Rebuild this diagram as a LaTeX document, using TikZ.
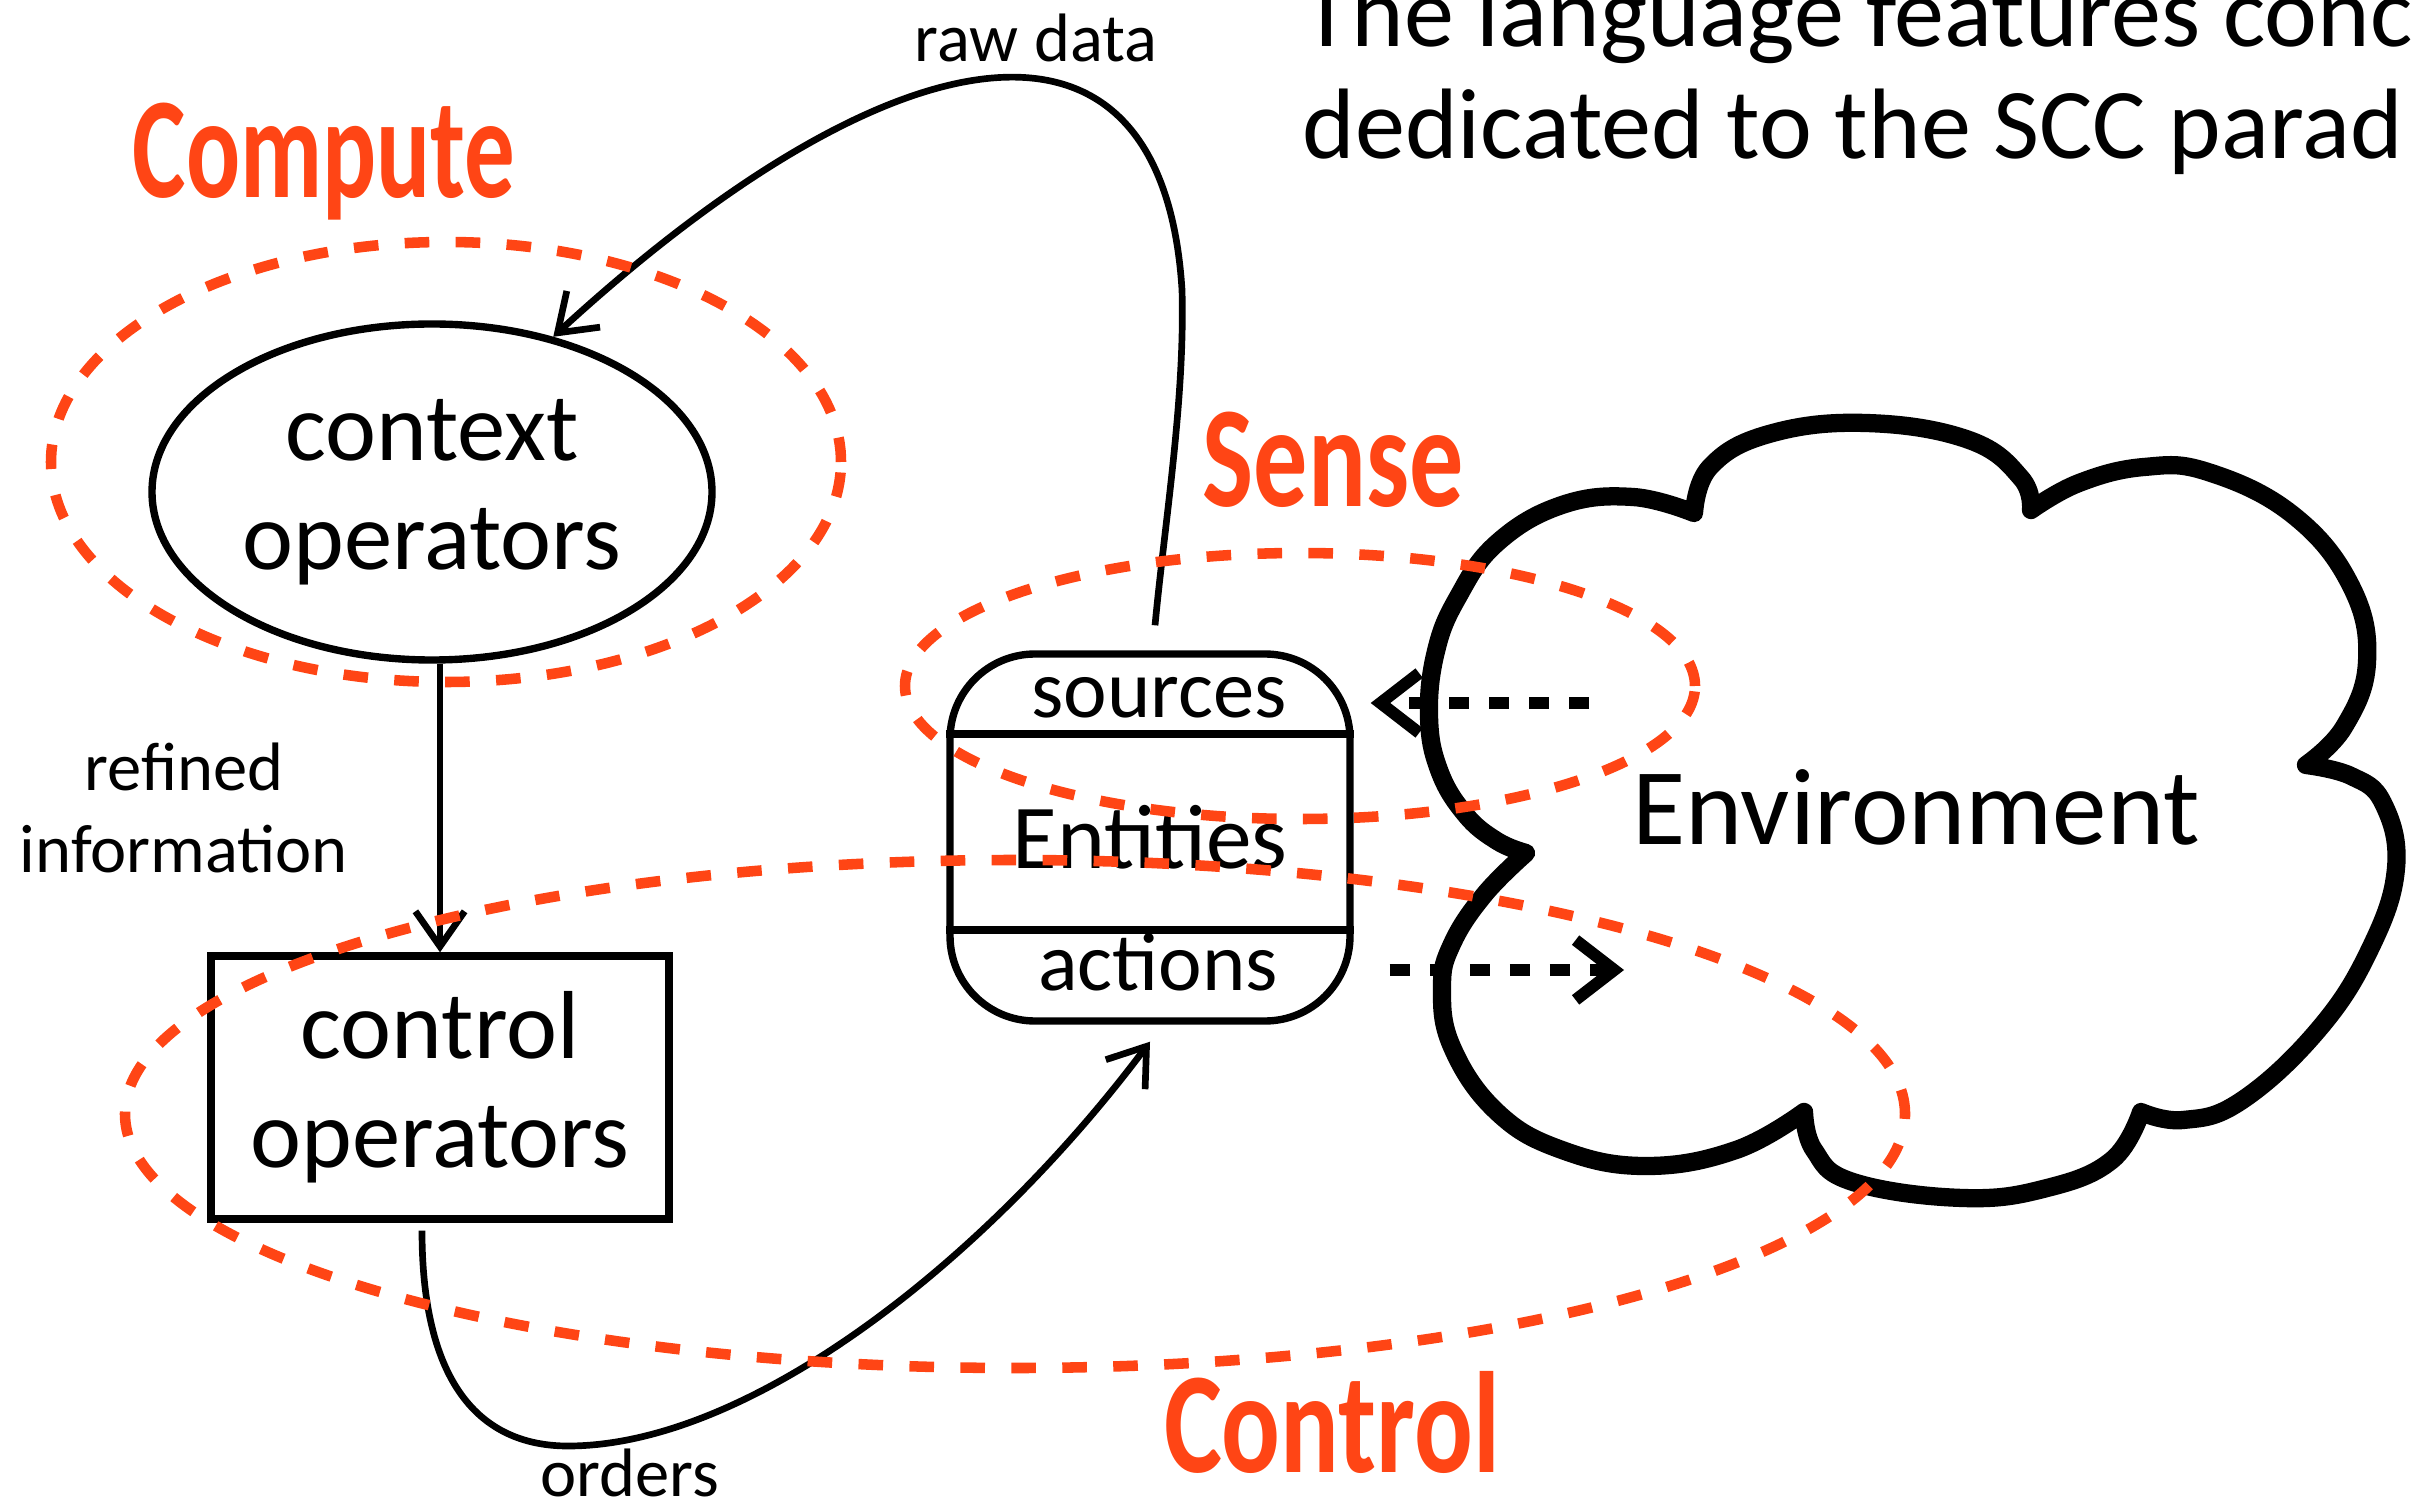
\documentclass[tikz,border=0pt]{standalone}
\usepackage{fontspec,graphicx}
\setmainfont{Carlito}
\usetikzlibrary{shapes.geometric,arrows.meta}
\definecolor{scc}{RGB}{255,69,21}

\begin{document}
\begin{tikzpicture}[
  every node/.style={inner sep=0pt},
  op/.style={draw, line width=2.1pt, align=center, font=\fontsize{27.5pt}{31pt}\selectfont},
  lbl/.style={align=center, font=\fontsize{19.5pt}{23.3pt}\selectfont},
  zonelbl/.style={anchor=base, text=scc, font=\fontsize{41pt}{41pt}\selectfont\bfseries},
  flow/.style={line width=1.9pt, -{Straight Barb[length=10pt,width=14pt]}},
  io/.style={line width=3.4pt, dash pattern=on 5.7pt off 5.7pt, -{Straight Barb[length=11pt,width=17pt]}},
  zone/.style={draw=scc, line width=3pt, dash pattern=on 7pt off 7.5pt},
]

\useasboundingbox (0,0) rectangle (24.14,-15.02);

% Title (cut off at the right edge)
\node[anchor=base west, align=left, font=\fontsize{28.5pt}{32pt}\selectfont] (title) at (13.02,-1.59)
  {The language features conce\\dedicated to the SCC parad};

% ── ENVIRONMENT CLOUD ───────────────────────────────────────────────
\draw[line width=5.2pt, line join=round]
  plot[smooth, tension=0.7] coordinates {(16.94,-5.13) (17.10,-4.67) (17.69,-4.34) (18.66,-4.23) (19.69,-4.40) (20.21,-4.78) (20.31,-5.10)}
  -- plot[smooth, tension=0.7] coordinates {(20.31,-5.10) (20.79,-4.83) (21.44,-4.67) (22.08,-4.72) (22.93,-5.15) (23.51,-5.86) (23.67,-6.62) (23.44,-7.27) (23.06,-7.65)}
  -- plot[smooth, tension=0.7] coordinates {(23.06,-7.65) (23.51,-7.76) (23.83,-8.03) (23.96,-8.68) (23.70,-9.49) (23.18,-10.30) (22.41,-11.01) (21.83,-11.20) (21.41,-11.12)}
  -- plot[smooth, tension=0.7] coordinates {(21.41,-11.12) (21.12,-11.60) (20.47,-11.88) (19.63,-11.98) (18.53,-11.82) (18.14,-11.50) (18.04,-11.12)}
  -- plot[smooth, tension=0.7] coordinates {(18.04,-11.12) (17.36,-11.50) (16.46,-11.66) (15.62,-11.50) (14.97,-11.12) (14.52,-10.47) (14.42,-9.87) (14.52,-9.44) (14.84,-8.95) (15.26,-8.53)}
  -- plot[smooth, tension=0.7] coordinates {(15.26,-8.53) (14.97,-8.41) (14.65,-8.14) (14.39,-7.70) (14.29,-7.16) (14.36,-6.51) (14.58,-5.97) (14.97,-5.43) (15.62,-5.05) (16.33,-4.97) (16.94,-5.13)}
  -- cycle;
\node[anchor=base, font=\fontsize{31pt}{31pt}\selectfont] (env) at (19.16,-8.45) {Environment};

% ── OPERATORS ───────────────────────────────────────────────────────
\node[op, ellipse, minimum width=5.6cm, minimum height=3.36cm] (ctx) at (4.32,-4.92) {context\\operators};
\node[op, rectangle, minimum width=4.58cm, minimum height=2.63cm] (ctl) at (4.40,-10.875) {control\\operators};

% Entities with sources / actions
\node[draw, line width=2.1pt, rounded corners=0.85cm, minimum width=4cm, minimum height=3.67cm,
  font=\fontsize{26pt}{26pt}\selectfont] (ent) at (11.50,-8.375) {Entities};
\draw[line width=2.1pt] (ent.west |- 0,-7.34) -- (ent.east |- 0,-7.34);
\draw[line width=2.1pt] (ent.west |- 0,-9.30) -- (ent.east |- 0,-9.30);
\node[anchor=base, font=\fontsize{23.5pt}{23.5pt}\selectfont] (src) at (11.59,-7.18) {sources};
\node[anchor=base, font=\fontsize{23.5pt}{23.5pt}\selectfont] (act) at (11.58,-9.90) {actions};

% ── FLOWS ───────────────────────────────────────────────────────────
\draw[flow] ([xshift=0.5mm,yshift=2.5mm]ent.north) .. controls (11.65,-5.2) and (11.85,-4.0) .. (11.82,-2.9)
  .. controls (11.62,0.29) and (8.85,-0.32) .. (ctx.52);
\node[lbl, anchor=base] (raw) at (10.36,-0.62) {raw data};

\draw[flow] (ctl.north |- ctx.south) -- (ctl.north);
\node[lbl, anchor=base] (refined) at (1.84,-8.72) {refined\\information};

\draw[flow] ([xshift=-1.8mm,yshift=-0.8mm]ctl.south) .. controls (4.22,-13.9) and (4.85,-14.46) .. (5.68,-14.46)
  .. controls (7.48,-14.46) and (9.84,-12.63) .. ([yshift=-1.7mm]ent.south);
\node[lbl, anchor=base] (ord) at (6.30,-14.96) {orders};

% Environment <-> Entities
\coordinate (envin) at (15.89,-7.03);
\coordinate (envout) at (16.24,-9.70);
\draw[io, shorten >=1.7mm] (envin) -- (ent.east |- envin);
\draw[io, shorten <=3.6mm] (ent.east |- envout) -- (envout);

% ── SCC ZONES ───────────────────────────────────────────────────────
\draw[zone] (4.46,-4.62) ellipse [x radius=3.95, y radius=2.20];
\draw[zone] (13.00,-6.86) ellipse [x radius=3.95, y radius=1.33];
\draw[zone] (10.15,-11.14) ellipse [x radius=8.90, y radius=2.54];

\node[zonelbl] (compute) at (3.24,-1.98) {\scalebox{0.7}[1]{Compute}};
\node[zonelbl] (sense) at (13.33,-5.07) {\scalebox{0.75}[1]{Sense}};
\node[zonelbl] (control) at (13.32,-14.72) {\scalebox{0.76}[1]{Control}};

\end{tikzpicture}
\end{document}
